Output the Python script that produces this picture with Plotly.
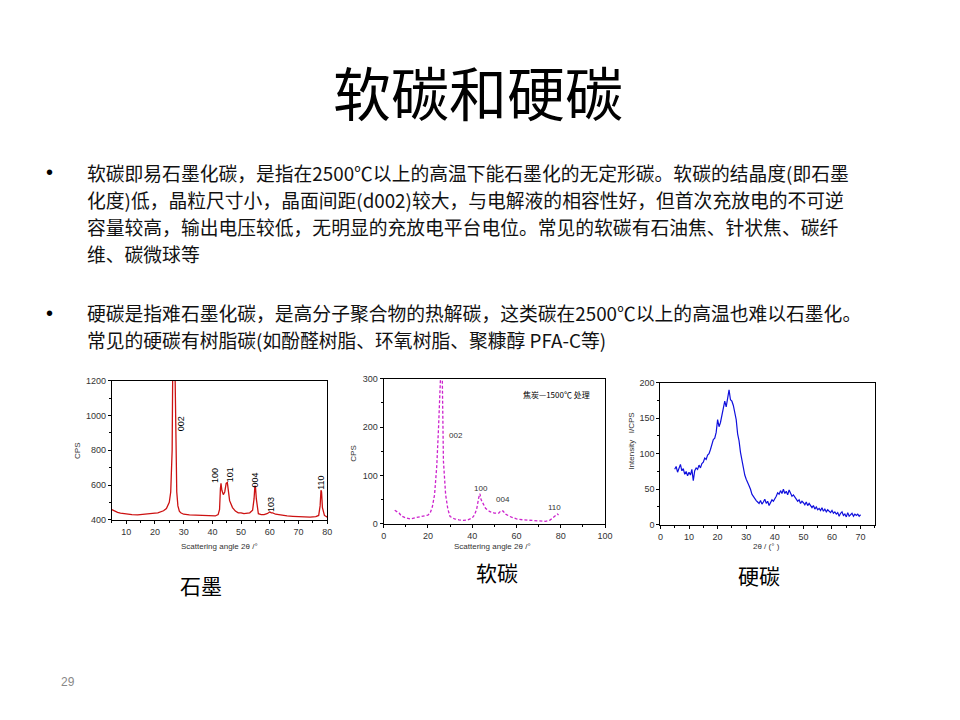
import numpy as np
import plotly.graph_objects as go

# graphite XRD
graphite_2theta = [5, 6, 7, 8, 9, 10, 12, 14, 16, 18, 20, 21, 22, 23, 24, 25, 25.5, 26, 26.3, 26.6,
                   27, 27.3, 27.6, 28, 28.5, 29, 30, 32, 35, 38, 40, 41, 42, 42.5, 42.8, 43, 43.3,
                   43.8, 44.3, 44.8, 45.2, 45.6, 46, 47, 48, 49, 50, 51, 52, 53, 54, 54.5, 54.8, 55,
                   55.3, 55.7, 56, 57, 58, 59, 60, 60.5, 61, 62, 64, 66, 68, 70, 72, 74, 76, 77,
                   77.5, 77.8, 78, 78.3, 78.7, 79, 80]
graphite_cps = [458, 448, 443, 438, 435, 432, 430, 428, 430, 432, 438, 440, 445, 452, 465, 500, 560, 800,
                1500, 1500, 1250, 820, 560, 480, 450, 440, 432, 428, 425, 423, 420, 422, 430, 460, 580,
                610, 570, 545, 560, 610, 615, 560, 510, 470, 450, 440, 440, 435, 438, 440, 455, 520,
                595, 590, 520, 450, 435, 430, 430, 435, 445, 440, 440, 432, 425, 422, 420, 418, 415,
                415, 418, 425, 480, 570, 560, 470, 430, 425, 415]
graphite_peaks = ["002", "100", "101", "004", "103", "110"]
graphite_peak_x = [29.1, 41.1, 46.0, 54.9, 60.4, 78.0]
graphite_peak_y = [950, 655, 660, 627, 491, 610]

# soft carbon XRD
soft_2theta = [5, 6, 7, 8, 10, 12, 14, 16, 18, 20, 21, 22, 23, 24, 24.8, 25.5, 26, 26.5, 27, 28, 29,
               30, 32, 34, 36, 38, 40, 41, 42, 43, 43.5, 44, 45, 46, 48, 50, 52, 53, 54, 55, 57, 60,
               63, 66, 70, 73, 75, 77, 78.5, 79]
soft_cps = [28, 25, 22, 16, 12, 10, 12, 14, 16, 18, 22, 35, 60, 120, 200, 320, 340, 300, 130, 60, 30,
            15, 10, 8, 7, 8, 12, 18, 30, 55, 62, 50, 40, 32, 25, 22, 22, 27, 26, 20, 15, 10, 8, 7,
            5, 5, 7, 15, 20, 18]
soft_peaks = ["002", "100", "004", "110"]
soft_peak_x = [32.7, 43.8, 54.0, 77.3]
soft_peak_y = [183, 72, 51, 33]

# hard carbon XRD, one reading every 0.5 deg from 5 deg
hard_cps = [78, 82, 74, 80, 85, 76, 79, 71, 75, 69,
            74, 70, 78, 62, 76, 80, 78, 84, 80, 86,
            88, 94, 92, 98, 100, 106, 114, 120, 122, 130,
            148, 138, 144, 155, 168, 174, 166, 178, 190, 176,
            174, 168, 160, 148, 128, 118, 102, 92, 78, 70,
            64, 58, 55, 50, 43, 40, 36, 34, 32, 30,
            34, 29, 32, 36, 30, 33, 27, 32, 35, 33,
            36, 40, 45, 43, 48, 44, 50, 44, 47, 42,
            49, 44, 40, 42, 38, 36, 33, 35, 30, 33,
            31, 28, 32, 27, 30, 26, 24, 27, 22, 25,
            21, 23, 20, 24, 19, 22, 18, 21, 19, 17,
            20, 16, 18, 15, 17, 12, 16, 18, 13, 15,
            11, 17, 12, 14, 16, 12, 15, 13, 15, 12,
            14]
hard_2theta = 5 + 0.5 * np.arange(len(hard_cps))

# the page body has an 8px margin, so the figure is a bit smaller and
# positions below are given in window pixels
OFF = 8
W, H = 960 - OFF, 720 - OFF


def px(x):
    return (x - OFF) / W


def py(y):
    return 1 - (y - OFF) / H


CJK = "Noto Sans CJK SC"
tick_font = dict(family="Arial, Liberation Sans", size=9, color="#333")

fig = go.Figure()
fig.add_trace(go.Scatter(x=graphite_2theta, y=graphite_cps, mode="lines",
                         line=dict(color="#cc1111", width=1.3), xaxis="x", yaxis="y"))
fig.add_trace(go.Scatter(x=soft_2theta, y=soft_cps, mode="lines",
                         line=dict(color="#cc22cc", width=1.3, dash="3px,2px"), xaxis="x2", yaxis="y2"))
fig.add_trace(go.Scatter(x=hard_2theta, y=hard_cps, mode="lines",
                         line=dict(color="#1010dd", width=1.2), xaxis="x3", yaxis="y3"))


def ax(domain, rng, dtick, minor, anchor):
    return dict(domain=domain, range=rng, dtick=dtick, anchor=anchor, showgrid=False,
                zeroline=False, showline=True, linecolor="black", linewidth=1, mirror=True,
                ticks="outside", ticklen=3, tickcolor="black", tickfont=tick_font,
                minor=dict(ticks="outside", ticklen=2, dtick=minor, tickcolor="black"))


annotations = []

# slide text
annotations.append(dict(x=px(480), y=py(87), text="软碳和硬碳", font=dict(family=CJK, size=58, color="black")))
bullet1 = ["软碳即易石墨化碳，是指在2500℃以上的高温下能石墨化的无定形碳。软碳的结晶度(即石墨",
           "化度)低，晶粒尺寸小，晶面间距(d002)较大，与电解液的相容性好，但首次充放电的不可逆",
           "容量较高，输出电压较低，无明显的充放电平台电位。常见的软碳有石油焦、针状焦、碳纤",
           "维、碳微球等"]
bullet2 = ["硬碳是指难石墨化碳，是高分子聚合物的热解碳，这类碳在2500℃以上的高温也难以石墨化。",
           "常见的硬碳有树脂碳(如酚醛树脂、环氧树脂、聚糠醇 PFA-C等)"]
PITCH = 27.3
for lines, y_mid in [(bullet1, 210.5), (bullet2, 325.5)]:
    y0 = y_mid - PITCH * (len(lines) - 1) / 2
    annotations.append(dict(x=px(47), y=py(y0), text="•",
                            font=dict(family="Arial, Liberation Sans", size=20, color="black")))
    for i, t in enumerate(lines):
        annotations.append(dict(x=px(83), y=py(y0 + PITCH * i), text=t, xanchor="left",
                                font=dict(family=CJK, size=18.8, color="#111")))

annotations.append(dict(x=px(66), y=py(687), text="29", font=dict(family="Arial", size=12, color="#888")))
for t, x, y in [("石墨", 200, 588), ("软碳", 500, 575), ("硬碳", 765, 578)]:
    annotations.append(dict(x=px(x), y=py(y), text=t, font=dict(family=CJK, size=21, color="black")))

# axis titles
small = dict(family="Arial, Liberation Sans", size=8, color="#333")
for t, x, y, ang in [("CPS", 76, 452, -90), ("Scattering angle 2θ /°", 219, 549, 0),
                     ("CPS", 355, 455, -90), ("Scattering angle 2θ /°", 495, 549, 0),
                     ("Intensity   I/CPS", 636, 442, -90), ("2θ / (° )", 772, 549, 0)]:
    annotations.append(dict(x=px(x), y=py(y), text=t, textangle=ang, font=small))

# peak labels
for t, x, y in zip(graphite_peaks, graphite_peak_x, graphite_peak_y):
    annotations.append(dict(x=x, y=y, xref="x", yref="y", text=t, textangle=-90,
                            font=dict(family="Arial", size=9, color="black")))
for t, x, y in zip(soft_peaks, soft_peak_x, soft_peak_y):
    annotations.append(dict(x=x, y=y, xref="x2", yref="y2", text=t,
                            font=dict(family="Arial", size=8, color="#333")))
annotations.append(dict(x=78, y=268, xref="x2", yref="y2", text="焦炭—1500℃ 处理",
                        font=dict(family=CJK, size=8, color="black")))

for a in annotations:
    a.setdefault("xref", "paper")
    a.setdefault("yref", "paper")
    a.setdefault("xanchor", "center")
    a.setdefault("yanchor", "middle")
    a.setdefault("showarrow", False)

fig.update_layout(
    width=W, height=H, margin=dict(l=0, r=0, t=0, b=0),
    paper_bgcolor="white", plot_bgcolor="white", showlegend=False,
    xaxis=ax([px(110), px(328)], [5, 80], 10, 5, "y"),
    yaxis=ax([py(522), py(381)], [400, 1200], 200, 100, "x"),
    xaxis2=ax([px(385), px(609)], [0, 100], 20, 10, "y2"),
    yaxis2=ax([py(526), py(379)], [0, 300], 100, 50, "x2"),
    xaxis3=ax([px(665), px(882)], [0, 75], 10, 5, "y3"),
    yaxis3=ax([py(527), py(383)], [0, 200], 50, 25, "x3"),
    annotations=annotations,
)

fig.write_html("out.html")
